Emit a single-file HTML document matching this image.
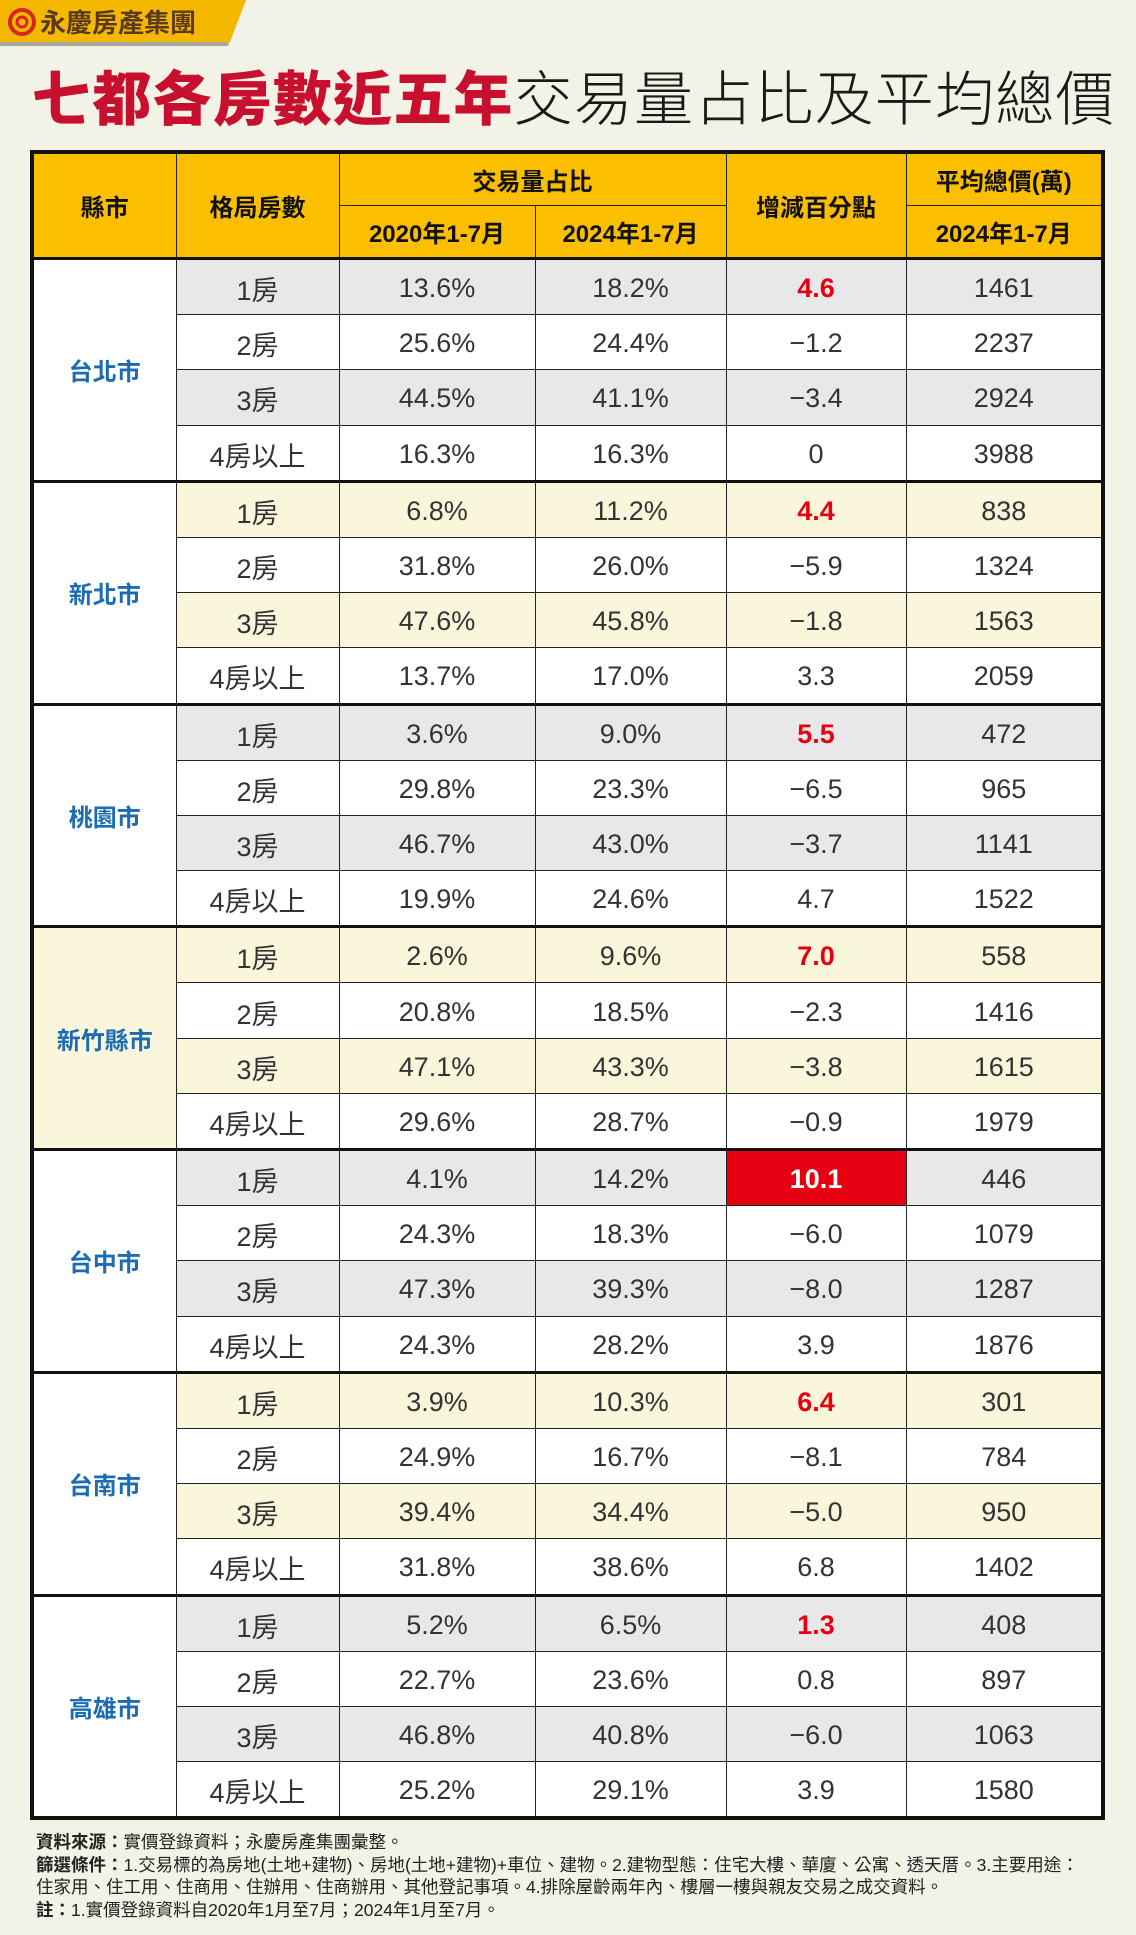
<!DOCTYPE html>
<html><head><meta charset="utf-8">
<style>
html,body{margin:0;padding:0;}
body{width:1136px;height:1935px;background:#f3f2e6;position:relative;overflow:hidden;font-family:"Liberation Sans","Noto Sans CJK TC",sans-serif;}
.badge{position:absolute;left:0;top:0;width:246px;height:52px;}
.title{position:absolute;left:32px;top:65px;font-size:59px;line-height:70px;white-space:nowrap;letter-spacing:1.2px;font-family:"Liberation Sans","Noto Sans CJK TC",sans-serif;}
.title .r{color:#c8102e;font-weight:900;}
.title .k{color:#1a1a1a;font-weight:300;}
table{position:absolute;left:30px;top:150px;border-collapse:collapse;table-layout:fixed;width:1071px;border:4px solid #111;background:#fff;}
td{border:1.5px solid #222;text-align:center;padding:3px 0 0 0;font-size:27px;color:#333;height:51.2px;background:#fff;}
thead td{background:#fbbf00;color:#111;font-weight:bold;font-size:24px;height:51px;padding:0;}
td.city{background:#fff;color:#1b6cb4;font-weight:bold;font-size:24px;padding:0;}
tr.g td{border-top:3px solid #111;}
tr.gr td.d{background:#e8e8e8;}
tr.yl td.d{background:#faf6dc;}
.red{color:#e60012;font-weight:bold;}
.hot{background:#e60012 !important;color:#fff;font-weight:bold;}
.notes{position:absolute;left:36px;top:1831px;font-size:17.5px;line-height:22.5px;color:#222;width:1090px;white-space:nowrap;}
.notes b{font-weight:bold;}
</style></head><body>
<svg class="badge" viewBox="0 0 246 52">
<polygon points="0,0 246,0 228,46 0,46" fill="#a8a8a0"/>
<polygon points="0,0 246,0 230,42 0,42" fill="#f5b800"/>
<circle cx="22" cy="22" r="12" fill="none" stroke="#d7261e" stroke-width="4"/>
<circle cx="22" cy="22" r="5" fill="none" stroke="#d7261e" stroke-width="3"/>
<text x="40" y="32" font-size="26" font-weight="bold" fill="#5a3a1a" font-family="Liberation Sans, Noto Sans CJK TC, sans-serif">永慶房產集團</text>
</svg>
<div class="title"><span class="r">七都各房數近五年</span><span class="k">交易量占比及平均總價</span></div>
<table>
<colgroup><col style="width:144px"><col style="width:163px"><col style="width:196px"><col style="width:191px"><col style="width:180px"><col style="width:197px"></colgroup>
<thead>
<tr><td rowspan="2">縣市</td><td rowspan="2">格局房數</td><td colspan="2">交易量占比</td><td rowspan="2">增減百分點</td><td>平均總價(萬)</td></tr>
<tr><td>2020年1-7月</td><td>2024年1-7月</td><td>2024年1-7月</td></tr>
</thead>
<tbody>
<tr class="g gr"><td class="city" rowspan="4">台北市</td><td class="d">1房</td><td class="d">13.6%</td><td class="d">18.2%</td><td class="d red">4.6</td><td class="d">1461</td></tr>
<tr><td>2房</td><td>25.6%</td><td>24.4%</td><td>−1.2</td><td>2237</td></tr>
<tr class="gr"><td class="d">3房</td><td class="d">44.5%</td><td class="d">41.1%</td><td class="d">−3.4</td><td class="d">2924</td></tr>
<tr><td>4房以上</td><td>16.3%</td><td>16.3%</td><td>0</td><td>3988</td></tr>

<tr class="g yl"><td class="city" rowspan="4">新北市</td><td class="d">1房</td><td class="d">6.8%</td><td class="d">11.2%</td><td class="d red">4.4</td><td class="d">838</td></tr>
<tr><td>2房</td><td>31.8%</td><td>26.0%</td><td>−5.9</td><td>1324</td></tr>
<tr class="yl"><td class="d">3房</td><td class="d">47.6%</td><td class="d">45.8%</td><td class="d">−1.8</td><td class="d">1563</td></tr>
<tr><td>4房以上</td><td>13.7%</td><td>17.0%</td><td>3.3</td><td>2059</td></tr>

<tr class="g gr"><td class="city" rowspan="4">桃園市</td><td class="d">1房</td><td class="d">3.6%</td><td class="d">9.0%</td><td class="d red">5.5</td><td class="d">472</td></tr>
<tr><td>2房</td><td>29.8%</td><td>23.3%</td><td>−6.5</td><td>965</td></tr>
<tr class="gr"><td class="d">3房</td><td class="d">46.7%</td><td class="d">43.0%</td><td class="d">−3.7</td><td class="d">1141</td></tr>
<tr><td>4房以上</td><td>19.9%</td><td>24.6%</td><td>4.7</td><td>1522</td></tr>

<tr class="g yl"><td class="city" rowspan="4" style="background:#faf6dc">新竹縣市</td><td class="d">1房</td><td class="d">2.6%</td><td class="d">9.6%</td><td class="d red">7.0</td><td class="d">558</td></tr>
<tr><td>2房</td><td>20.8%</td><td>18.5%</td><td>−2.3</td><td>1416</td></tr>
<tr class="yl"><td class="d">3房</td><td class="d">47.1%</td><td class="d">43.3%</td><td class="d">−3.8</td><td class="d">1615</td></tr>
<tr><td>4房以上</td><td>29.6%</td><td>28.7%</td><td>−0.9</td><td>1979</td></tr>

<tr class="g gr"><td class="city" rowspan="4">台中市</td><td class="d">1房</td><td class="d">4.1%</td><td class="d">14.2%</td><td class="d hot">10.1</td><td class="d">446</td></tr>
<tr><td>2房</td><td>24.3%</td><td>18.3%</td><td>−6.0</td><td>1079</td></tr>
<tr class="gr"><td class="d">3房</td><td class="d">47.3%</td><td class="d">39.3%</td><td class="d">−8.0</td><td class="d">1287</td></tr>
<tr><td>4房以上</td><td>24.3%</td><td>28.2%</td><td>3.9</td><td>1876</td></tr>

<tr class="g yl"><td class="city" rowspan="4">台南市</td><td class="d">1房</td><td class="d">3.9%</td><td class="d">10.3%</td><td class="d red">6.4</td><td class="d">301</td></tr>
<tr><td>2房</td><td>24.9%</td><td>16.7%</td><td>−8.1</td><td>784</td></tr>
<tr class="yl"><td class="d">3房</td><td class="d">39.4%</td><td class="d">34.4%</td><td class="d">−5.0</td><td class="d">950</td></tr>
<tr><td>4房以上</td><td>31.8%</td><td>38.6%</td><td>6.8</td><td>1402</td></tr>

<tr class="g gr"><td class="city" rowspan="4">高雄市</td><td class="d">1房</td><td class="d">5.2%</td><td class="d">6.5%</td><td class="d red">1.3</td><td class="d">408</td></tr>
<tr><td>2房</td><td>22.7%</td><td>23.6%</td><td>0.8</td><td>897</td></tr>
<tr class="gr"><td class="d">3房</td><td class="d">46.8%</td><td class="d">40.8%</td><td class="d">−6.0</td><td class="d">1063</td></tr>
<tr><td>4房以上</td><td>25.2%</td><td>29.1%</td><td>3.9</td><td>1580</td></tr>
</tbody>
</table>
<div class="notes">
<div><b>資料來源：</b>實價登錄資料；永慶房產集團彙整。</div>
<div><b>篩選條件：</b>1.交易標的為房地(土地+建物)、房地(土地+建物)+車位、建物。2.建物型態：住宅大樓、華廈、公寓、透天厝。3.主要用途：</div>
<div>住家用、住工用、住商用、住辦用、住商辦用、其他登記事項。4.排除屋齡兩年內、樓層一樓與親友交易之成交資料。</div>
<div><b>註：</b>1.實價登錄資料自2020年1月至7月；2024年1月至7月。</div>
</div>
</body></html>
